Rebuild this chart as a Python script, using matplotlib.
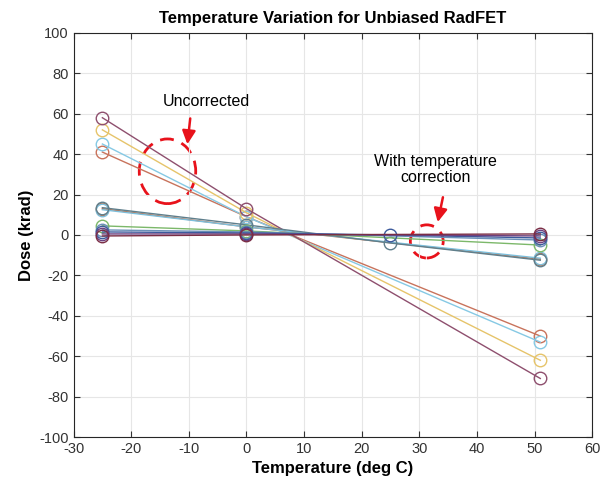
import matplotlib.pyplot as plt
from matplotlib.patches import Ellipse

plt.rcParams['font.family'] = ['Liberation Sans', 'DejaVu Sans']
plt.rcParams['axes.unicode_minus'] = False

# uncorrected dose readings
temps_unc = [-25, 0, 51]
unc_mauve = [58, 13, -71]
unc_yellow = [52, 11, -62]
unc_lblue = [45, 9, -53]
unc_orange = [41, 9, -50]

# with temperature correction
temps_cor4 = [-25, 0, 25, 51]
temps_cor3 = [-25, 0, 51]
cor_teal = [13.5, 5, -4, -12.5]
cor_orange = [13, 4, -12]
cor_lblue = [12.5, 4, -11.5]
cor_green = [4.5, 2, -5]
cor_grey = [2.5, 1.5, -2.5]
cor_blue = [1.5, 1, 0, -1.5]
cor_purple = [0.5, 0.5, -0.5]
cor_dark = [-0.5, 0, 0.5]

series = [
    (temps_unc, unc_orange, '#c8735c'),
    (temps_unc, unc_lblue, '#86c9e4'),
    (temps_unc, unc_yellow, '#e6c46a'),
    (temps_unc, unc_mauve, '#8e4f6e'),
    (temps_cor3, cor_orange, '#c0744f'),
    (temps_cor3, cor_lblue, '#7dbfdc'),
    (temps_cor4, cor_teal, '#5f7f8c'),
    (temps_cor3, cor_green, '#7cb86a'),
    (temps_cor3, cor_grey, '#6a90b8'),
    (temps_cor4, cor_blue, '#3c5a9c'),
    (temps_cor3, cor_purple, '#6b3f7e'),
    (temps_cor3, cor_dark, '#7a2d45'),
]

fig = plt.figure(figsize=(6.03, 4.9), dpi=100)
ax = fig.add_axes([0.122, 0.108, 0.860, 0.825])

for t, d, c in series:
    ax.plot(t, d, '-o', color=c, lw=1.0, ms=9, mfc='none', mew=1.0)

ax.set_xlim(-30, 60)
ax.set_ylim(-100, 100)
ax.set_xticks(range(-30, 61, 10))
ax.set_yticks(range(-100, 101, 20))
ax.grid(True, color='#e6e6e6', lw=0.8)
ax.tick_params(direction='in', top=True, right=True, labelsize=10.5, colors='#333333', length=4)
for s in ax.spines.values():
    s.set_color('#262626')

ax.set_title('Temperature Variation for Unbiased RadFET', fontsize=12, fontweight='bold', pad=7)
ax.set_xlabel('Temperature (deg C)', fontsize=12, fontweight='bold')
ax.set_ylabel('Dose (krad)', fontsize=12, fontweight='bold')

# annotations
ax.add_patch(Ellipse((-13.7, 31.5), 9.8, 32, fill=False, ec='#e8121b', lw=2, ls=(0, (5, 3))))
ax.add_patch(Ellipse((31.3, -3.2), 5.7, 16.4, fill=False, ec='#e8121b', lw=2, ls=(0, (5, 3))))
ax.annotate('', xy=(-10.3, 43.5), xytext=(-9.7, 59),
            arrowprops=dict(arrowstyle='-|>', color='#e8121b', lw=1.8, mutation_scale=20))
ax.annotate('', xy=(33.1, 5), xytext=(34.2, 20),
            arrowprops=dict(arrowstyle='-|>', color='#e8121b', lw=1.8, mutation_scale=20))
ax.text(-6.9, 66, 'Uncorrected', ha='center', va='center', fontsize=11.5)
ax.text(32.8, 32.5, 'With temperature\ncorrection', ha='center', va='center', fontsize=11.5, linespacing=1.1)

fig.savefig('out.png', dpi=100)
